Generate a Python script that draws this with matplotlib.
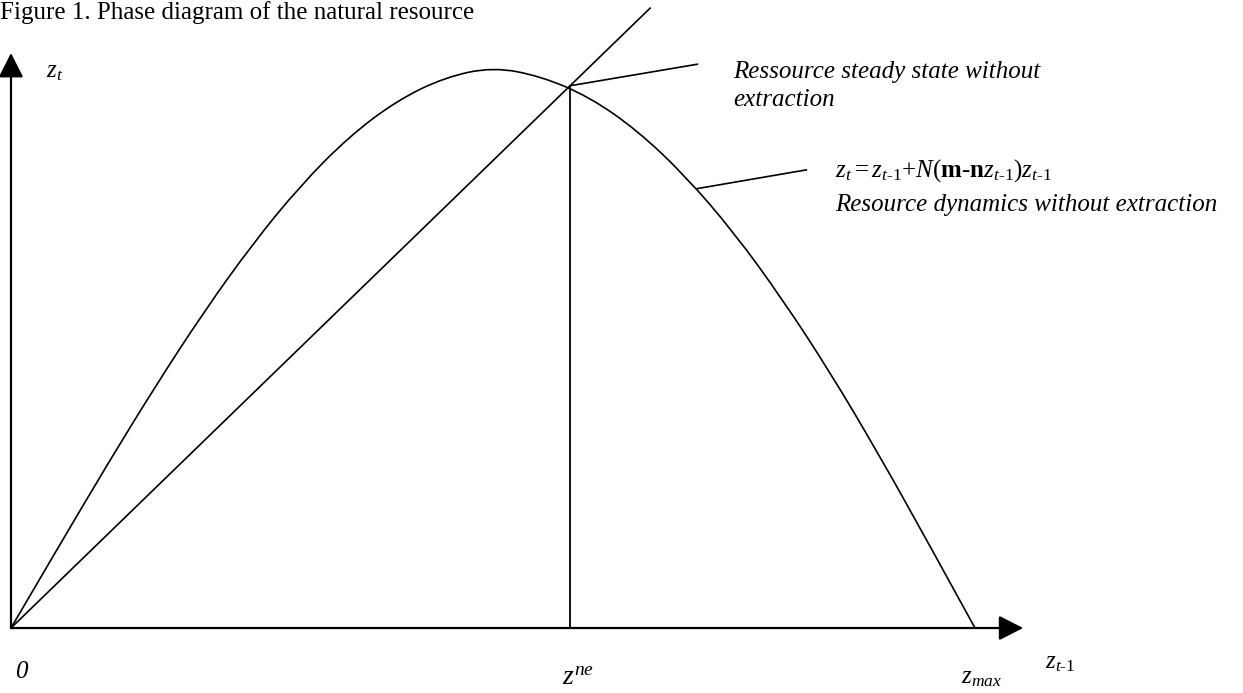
import numpy as np
import matplotlib
matplotlib.use('Agg')
import matplotlib.pyplot as plt
from matplotlib.path import Path
from matplotlib.patches import PathPatch

plt.rcParams['font.family'] = ['Liberation Serif', 'DejaVu Serif']
plt.rcParams['mathtext.fontset'] = 'custom'
plt.rcParams['mathtext.rm'] = 'Liberation Serif'
plt.rcParams['mathtext.it'] = 'Liberation Serif:italic'
plt.rcParams['mathtext.bf'] = 'Liberation Serif:bold'

# Resource dynamics curve (z_{t-1} -> z_t)
z_prev = [0, 5, 10, 15, 20, 25, 30, 35, 40, 45, 50,
          55, 60, 65, 70, 75, 80, 85, 90, 95, 100]
z_next = [0, 8.8, 17.5, 25.9, 33.8, 41.0, 47.3, 52.5, 56.4, 58.9, 60.0,
          59.0, 56.8, 53.2, 48.3, 42.3, 35.2, 27.3, 18.6, 9.4, 0]
z_max = 100.0
z_ne = 58.0          # steady state without extraction
line45_end = 66.3    # where the 45 degree line leaves the picture

title = 'Figure 1. Phase diagram of the natural resource'

W, H = 1243, 693
fig = plt.figure(figsize=(W / 100, H / 100), dpi=100)
ax = fig.add_axes([0, 0, 1, 1])
ax.set_xlim(-1.14, 127.8)
ax.set_ylim(-6.95, 67.17)
ax.axis('off')

def fx(x, y):
  # figure pixel -> figure fraction
  return x / W, 1 - y / H

# axes with arrow heads
arrow = dict(arrowstyle='-|>,head_length=0.75,head_width=0.38', lw=1.6,
             color='black', shrinkA=0, shrinkB=0, mutation_scale=20)
ax.annotate('', xy=(105.0, 0), xytext=(0, 0), arrowprops=arrow)
ax.annotate('', xy=(0, 61.5), xytext=(0, 0), arrowprops=arrow)

# smooth curve through the read points (quadratic segments between midpoints)
pts = np.column_stack([z_prev, z_next])
verts = [pts[0]]
codes = [Path.MOVETO]
for i in range(1, len(pts) - 1):
  mid = (pts[i] + pts[i + 1]) / 2 if i < len(pts) - 2 else pts[i + 1]
  verts += [pts[i], mid]
  codes += [Path.CURVE3, Path.CURVE3]
ax.add_patch(PathPatch(Path(verts, codes), fill=False, color='black', lw=1.2))

ax.plot([0, line45_end], [0, line45_end], color='black', lw=1.2)
ax.plot([z_ne, z_ne], [0, z_ne], color='black', lw=1.3)

# leader lines
ax.plot([z_ne, 71.2], [z_ne, 60.3], color='black', lw=1.2)
ax.plot([71.2, 82.5], [47.0, 49.0], color='black', lw=1.2)

fs = 18
fig.text(*fx(0, 13), title, fontsize=fs, va='center', ha='left')

fig.text(*fx(733, 72), 'Ressource steady state without', fontsize=fs,
         style='italic', va='center', ha='left')
fig.text(*fx(733, 100), 'extraction', fontsize=fs, style='italic',
         va='center', ha='left')

fig.text(*fx(835, 177),
         r'$z_t{=}z_{t\text{-}\mathit{1}}{+}N(\mathbf{m}\text{-}\mathbf{n}z_{t\text{-}\mathit{1}})z_{t\text{-}\mathit{1}}$',
         fontsize=18, va='baseline', ha='left')
fig.text(*fx(835, 205), 'Resource dynamics without extraction', fontsize=fs,
         style='italic', va='center', ha='left')

fig.text(*fx(55, 77), r'$z_t$', fontsize=fs, va='baseline', ha='center')
fig.text(*fx(21, 678), '0', fontsize=fs, style='italic', va='baseline',
         ha='center')
fig.text(*fx(578, 685), r'$z^{ne}$', fontsize=20, va='baseline', ha='center')
fig.text(*fx(982, 683), r'$z_{max}$', fontsize=fs, va='baseline', ha='center')
fig.text(*fx(1060, 668), r'$z_{t\text{-}\mathit{1}}$', fontsize=fs,
         va='baseline', ha='center')

fig.savefig('out.png', dpi=100, facecolor='white')
